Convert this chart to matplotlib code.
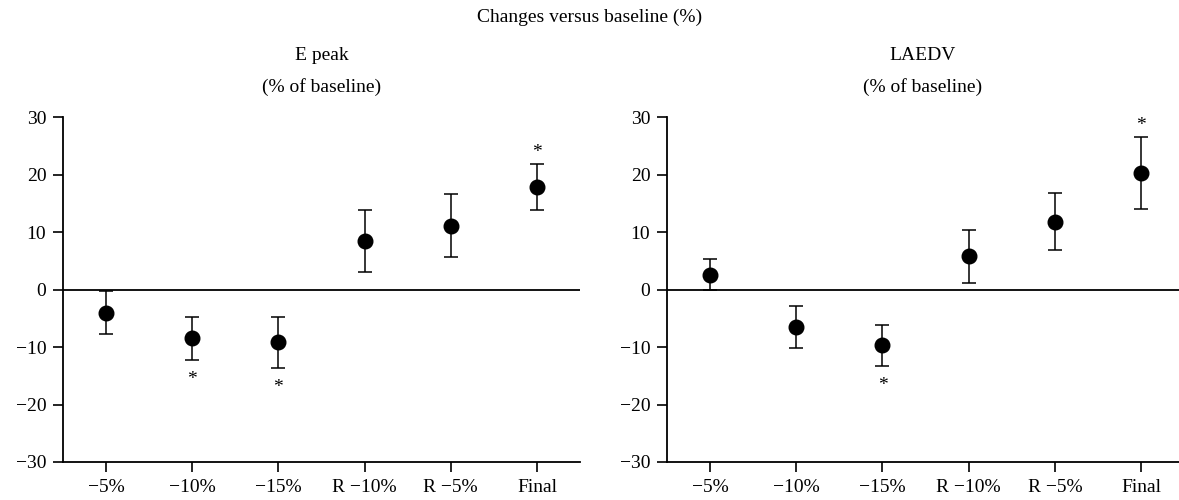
import numpy as np
import matplotlib
matplotlib.use("Agg")
import matplotlib.pyplot as plt

plt.rcParams["font.family"] = ["Liberation Serif", "DejaVu Serif"]
plt.rcParams["axes.unicode_minus"] = True

stages = ["\u22125%", "\u221210%", "\u221215%", "R \u221210%", "R \u22125%", "Final"]

# E peak (% of baseline)
epeak_mean = [-4.0, -8.5, -9.2, 8.5, 11.1, 17.9]
epeak_err = [3.7, 3.8, 4.4, 5.4, 5.5, 4.0]
epeak_sig = [False, True, True, False, False, True]

# LAEDV (% of baseline)
laedv_mean = [2.6, -6.5, -9.7, 5.8, 11.8, 20.3]
laedv_err = [2.7, 3.6, 3.55, 4.6, 4.9, 6.25]
laedv_sig = [False, False, True, False, False, True]

fig = plt.figure(figsize=(11.79, 5.0), dpi=100)
ax1 = fig.add_axes([63 / 1179, 38 / 500, 517 / 1179, 345 / 500])
ax2 = fig.add_axes([667 / 1179, 38 / 500, 512 / 1179, 345 / 500])


def draw_panel(ax, title, means, errs, sig, xmax):
    x = np.arange(len(stages))
    ax.errorbar(x, means, yerr=errs, fmt="o", color="black", markersize=10.5,
                capsize=5, elinewidth=1.1, capthick=1.1, ecolor="black")
    ax.axhline(0, color="black", lw=1.3)
    for xi, m, e, s in zip(x, means, errs, sig):
        if not s:
            continue
        if m < 0:
            ax.annotate("*", xy=(xi, m - e), xytext=(0, -14), textcoords="offset points",
                        ha="center", va="center", fontsize=14)
        else:
            ax.annotate("*", xy=(xi, m + e), xytext=(0, 8), textcoords="offset points",
                        ha="center", va="center", fontsize=14)
    ax.set_xlim(-0.5, xmax)
    ax.set_ylim(-30, 30)
    ax.set_yticks([-30, -20, -10, 0, 10, 20, 30])
    ax.set_xticks(x)
    ax.set_xticklabels(stages)
    for side in ["top", "right"]:
        ax.spines[side].set_visible(False)
    for side in ["left", "bottom"]:
        ax.spines[side].set_linewidth(1.3)
    ax.tick_params(axis="both", direction="out", length=7, width=1.2, labelsize=14)
    ax.tick_params(axis="x", pad=5)
    ax.tick_params(axis="y", pad=5)
    ax.text(0.5, 1.177, title, transform=ax.transAxes, ha="center", va="center", fontsize=14)
    ax.text(0.5, 1.087, "(% of baseline)", transform=ax.transAxes, ha="center", va="center", fontsize=14)


draw_panel(ax1, "E peak", epeak_mean, epeak_err, epeak_sig, 5.5)
draw_panel(ax2, "LAEDV", laedv_mean, laedv_err, laedv_sig, 5.44)

fig.text(0.5, 1 - 17 / 500, "Changes versus baseline (%)", ha="center", va="center", fontsize=14)

fig.savefig("out.png", dpi=100)
